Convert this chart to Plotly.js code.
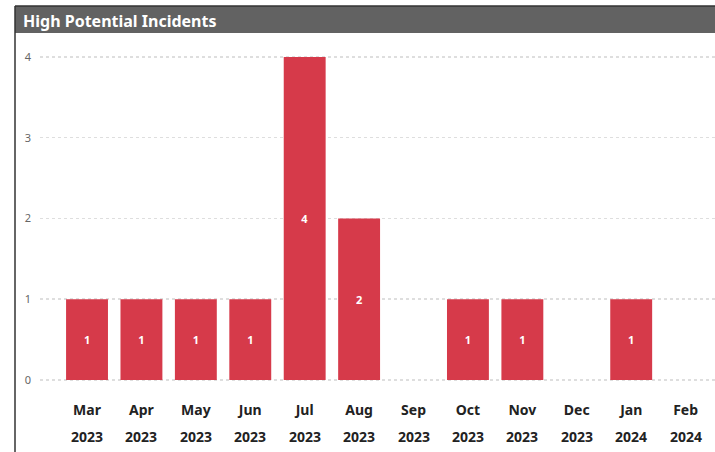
<!DOCTYPE html>
<html>
<head>
<meta charset="utf-8">
<script src="https://cdn.plot.ly/plotly-3.0.1.min.js"></script>
<style>html,body{margin:0;padding:0;background:#fff;}#chart{width:715px;height:452px;}</style>
</head>
<body>
<div id="chart"></div>
<script>
const months = ["Mar","Apr","May","Jun","Jul","Aug","Sep","Oct","Nov","Dec","Jan","Feb"];
const years = ["2023","2023","2023","2023","2023","2023","2023","2023","2023","2023","2024","2024"];
const incidents = [1,1,1,1,4,2,0,1,1,0,1,0];
const title = "High Potential Incidents";

const idx = months.map((m,i)=>i);
const labels = incidents.map(v => v > 0 ? String(v) : "");

const trace = {
  type: "bar",
  x: idx,
  y: incidents,
  text: labels,
  textposition: "inside",
  insidetextanchor: "middle",
  textfont: {color: "#ffffff", size: 11, family: "Segoe UI, Noto Sans, sans-serif", weight: "bold"},
  marker: {color: "#d63a4a"},
  width: 0.77,
  hoverinfo: "skip"
};

const W = 715, H = 452, L = 40, R = 0, T = 40, B = 70;
const pw = W - L - R, ph = H - T - B;
const px2x = p => (p - L) / pw;
const py2y = p => (H - B - p) / ph;

const yearAnn = idx.map(i => ({
  x: i, xref: "x", y: py2y(436), yref: "paper",
  text: years[i], showarrow: false, xanchor: "center", yanchor: "middle",
  font: {family: "Segoe UI, Noto Sans, sans-serif", size: 14, color: "#222", weight: "bold"}
}));

const layout = {
  width: W, height: H,
  margin: {l: L, r: R, t: T, b: B, pad: 0},
  paper_bgcolor: "#ffffff",
  plot_bgcolor: "#ffffff",
  showlegend: false,
  xaxis: {
    range: [-0.864, 11.54],
    tickmode: "array",
    tickvals: idx,
    ticktext: months,
    ticks: "",
    showgrid: false,
    zeroline: false,
    showline: false,
    ticklabelstandoff: 18,
    tickfont: {family: "Segoe UI, Noto Sans, sans-serif", size: 14, color: "#222", weight: "bold"},
    fixedrange: true
  },
  yaxis: {
    range: [-0.025, 4.21],
    tickvals: [0,1,2,3,4],
    ticks: "",
    showgrid: true,
    gridcolor: "#dedede",
    griddash: "dot",
    gridwidth: 1.5,
    zeroline: false,
    showline: false,
    ticklabelstandoff: 8,
    tickfont: {family: "Segoe UI, Noto Sans, sans-serif", size: 11, color: "#666"},
    fixedrange: true
  },
  shapes: [
    {type: "rect", xref: "paper", yref: "paper",
     x0: px2x(15), x1: 1, y0: py2y(33), y1: py2y(6),
     fillcolor: "#626262", line: {width: 0}, layer: "above"},
    {type: "line", xref: "paper", yref: "paper",
     x0: px2x(15), x1: 1, y0: py2y(6), y1: py2y(6),
     line: {color: "#333", width: 1.5}},
    {type: "line", xref: "paper", yref: "paper",
     x0: px2x(15), x1: px2x(15), y0: py2y(6), y1: py2y(452),
     line: {color: "#333", width: 1.5}}
  ],
  annotations: [
    {x: px2x(21), xref: "paper", y: py2y(21), yref: "paper",
     text: title, showarrow: false, xanchor: "left", yanchor: "middle",
     font: {family: "Segoe UI, Noto Sans, sans-serif", size: 16, color: "#ffffff", weight: "bold"}}
  ].concat(yearAnn)
};

Plotly.newPlot("chart", [trace], layout, {displayModeBar: false, staticPlot: true});
</script>
</body>
</html>
